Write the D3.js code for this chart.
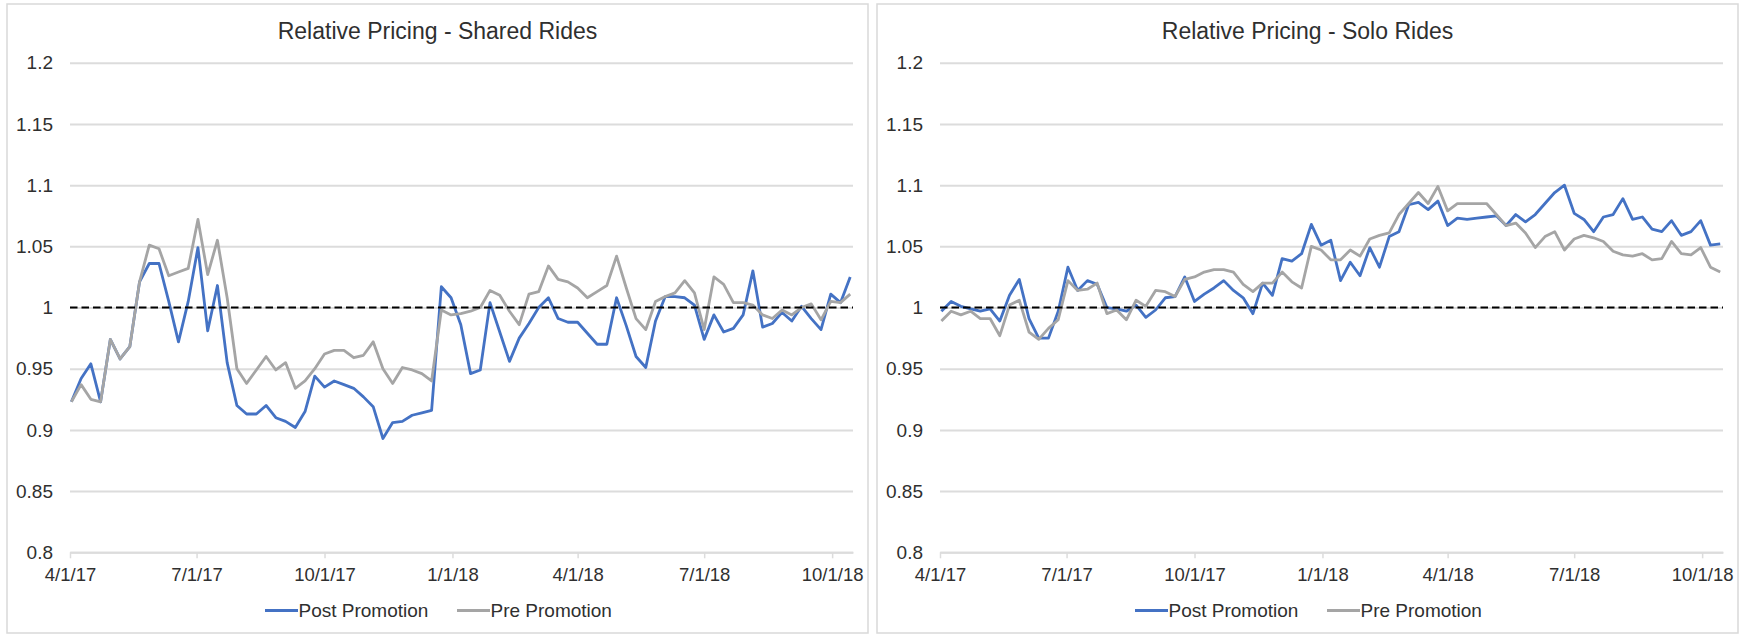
<!DOCTYPE html>
<html>
<head>
<meta charset="utf-8">
<script src="https://cdn.jsdelivr.net/npm/d3@7"></script>
<style>
  html, body { margin: 0; padding: 0; background: #ffffff; }
  svg { display: block; font-family: "Liberation Sans", Arial, Helvetica, sans-serif; }
</style>
</head>
<body>
<svg id="chart" width="1745" height="636"></svg>
<script>
// Weekly relative pricing, first week starting 2017-04-02
const firstWeek = "2017-04-02";

const sharedPost = [
  0.923, 0.942, 0.954, 0.923, 0.974, 0.958, 0.968, 1.021, 1.036, 1.036,
  1.005, 0.972, 1.005, 1.049, 0.981, 1.018, 0.955, 0.920, 0.913, 0.913,
  0.920, 0.910, 0.907, 0.902, 0.915, 0.944, 0.935, 0.940, 0.937, 0.934,
  0.927, 0.919, 0.893, 0.906, 0.907, 0.912, 0.914, 0.916, 1.017, 1.008,
  0.986, 0.946, 0.949, 1.004, 0.980, 0.956, 0.975, 0.987, 1.000, 1.008,
  0.991, 0.988, 0.988, 0.979, 0.970, 0.970, 1.008, 0.985, 0.960, 0.951,
  0.989, 1.009, 1.009, 1.008, 1.002, 0.974, 0.994, 0.980, 0.983, 0.994,
  1.030, 0.984, 0.987, 0.996, 0.989, 1.001, 0.991, 0.982, 1.011, 1.004,
  1.025
];

const sharedPre = [
  0.923, 0.937, 0.925, 0.923, 0.974, 0.958, 0.968, 1.021, 1.051, 1.048,
  1.026, 1.029, 1.032, 1.072, 1.027, 1.055, 1.008, 0.950, 0.938, 0.949,
  0.960, 0.949, 0.955, 0.934, 0.940, 0.950, 0.962, 0.965, 0.965, 0.959,
  0.961, 0.972, 0.950, 0.938, 0.951, 0.949, 0.946, 0.940, 0.998, 0.994,
  0.995, 0.997, 1.000, 1.014, 1.010, 0.997, 0.986, 1.011, 1.013, 1.034,
  1.023, 1.021, 1.016, 1.008, 1.013, 1.018, 1.042, 1.016, 0.991, 0.982,
  1.005, 1.009, 1.012, 1.022, 1.012, 0.982, 1.025, 1.019, 1.004, 1.004,
  1.002, 0.994, 0.991, 0.998, 0.994, 1.000, 1.003, 0.990, 1.005, 1.004,
  1.011
];

const soloPost = [
  0.997, 1.005, 1.001, 0.999, 0.997, 0.999, 0.989, 1.010, 1.023, 0.991,
  0.975, 0.975, 0.997, 1.033, 1.014, 1.022, 1.019, 1.000, 0.999, 0.997,
  1.002, 0.992, 0.998, 1.008, 1.009, 1.025, 1.005, 1.011, 1.016, 1.022,
  1.014, 1.008, 0.995, 1.020, 1.010, 1.040, 1.038, 1.044, 1.068, 1.051,
  1.055, 1.022, 1.037, 1.026, 1.049, 1.033, 1.058, 1.062, 1.084, 1.086,
  1.080, 1.087, 1.067, 1.073, 1.072, 1.073, 1.074, 1.075, 1.067, 1.076,
  1.070, 1.076, 1.085, 1.094, 1.100, 1.077, 1.072, 1.062, 1.074, 1.076,
  1.089, 1.072, 1.074, 1.064, 1.062, 1.071, 1.059, 1.062, 1.071, 1.051,
  1.052
];

const soloPre = [
  0.989, 0.997, 0.994, 0.997, 0.991, 0.991, 0.977, 1.002, 1.006, 0.980,
  0.974, 0.983, 0.990, 1.022, 1.014, 1.015, 1.020, 0.995, 0.998, 0.990,
  1.006, 1.001, 1.014, 1.013, 1.009, 1.023, 1.025, 1.029, 1.031, 1.031,
  1.029, 1.019, 1.013, 1.020, 1.020, 1.029, 1.021, 1.016, 1.050, 1.047,
  1.039, 1.039, 1.047, 1.042, 1.056, 1.059, 1.061, 1.076, 1.085, 1.094,
  1.085, 1.099, 1.079, 1.085, 1.085, 1.085, 1.085, 1.076, 1.067, 1.069,
  1.061, 1.049, 1.058, 1.062, 1.047, 1.056, 1.059, 1.057, 1.054, 1.046,
  1.043, 1.042, 1.044, 1.039, 1.040, 1.054, 1.044, 1.043, 1.049, 1.033,
  1.029
];

const panelTitles = ["Relative Pricing - Shared Rides", "Relative Pricing - Solo Rides"];
const seriesNames = ["Post Promotion", "Pre Promotion"];
const seriesColors = ["#4472c4", "#a5a5a5"];

const yTicks = [0.8, 0.85, 0.9, 0.95, 1, 1.05, 1.1, 1.15, 1.2];
const yTickLabels = ["0.8", "0.85", "0.9", "0.95", "1", "1.05", "1.1", "1.15", "1.2"];
const xTickDates = ["2017-04-01", "2017-07-01", "2017-10-01", "2018-01-01", "2018-04-01", "2018-07-01", "2018-10-01"];
const xTickLabels = ["4/1/17", "7/1/17", "10/1/17", "1/1/18", "4/1/18", "7/1/18", "10/1/18"];
const xDomain = ["2017-04-01", "2018-10-16"];
const referenceLevel = 1;

const parse = d3.utcParse("%Y-%m-%d");
const start = parse(firstWeek);
const weeks = sharedPost.map((_, i) => d3.utcDay.offset(start, 7 * i));

const panels = [
  { title: panelTitles[0], post: sharedPost, pre: sharedPre },
  { title: panelTitles[1], post: soloPost, pre: soloPre }
];

const svg = d3.select("#chart");
const panelStep = 870;
const frame = { x: 7, y: 4, w: 861, h: 629 };
const plot = { left: 70, right: 853, top: 62.8, bottom: 552.3 };

const x = d3.scaleUtc().domain(xDomain.map(parse)).range([plot.left, plot.right]);
const y = d3.scaleLinear().domain([0.8, 1.2]).range([plot.bottom, plot.top]);

const textColor = "#2f2f2f";
const gridColor = "#dcdcdc";

panels.forEach((p, k) => {
  const g = svg.append("g").attr("transform", `translate(${k * panelStep},0)`);

  g.append("rect")
    .attr("x", frame.x).attr("y", frame.y)
    .attr("width", frame.w).attr("height", frame.h)
    .attr("fill", "#ffffff")
    .attr("stroke", "#d9d9d9").attr("stroke-width", 1.5);

  g.append("text")
    .attr("x", frame.x + frame.w / 2).attr("y", 38.5)
    .attr("text-anchor", "middle")
    .attr("font-size", "23px")
    .attr("fill", textColor)
    .text(p.title);

  // value axis with gridlines
  const yAxis = g.append("g")
    .attr("transform", `translate(${plot.left},0)`)
    .call(d3.axisLeft(y)
      .tickValues(yTicks)
      .tickFormat((d, i) => yTickLabels[i])
      .tickSize(-(plot.right - plot.left))
      .tickPadding(17));
  yAxis.select(".domain").remove();
  yAxis.selectAll(".tick line").attr("stroke", gridColor).attr("stroke-width", 2);
  yAxis.selectAll(".tick text")
    .attr("font-size", "19px")
    .attr("font-family", "Liberation Sans, Arial, sans-serif")
    .attr("fill", textColor);

  // date axis
  const xAxis = g.append("g")
    .attr("transform", `translate(0,${plot.bottom})`)
    .call(d3.axisBottom(x)
      .tickValues(xTickDates.map(parse))
      .tickFormat((d, i) => xTickLabels[i])
      .tickSize(6)
      .tickSizeOuter(0)
      .tickPadding(10));
  xAxis.select(".domain").attr("stroke", gridColor).attr("stroke-width", 2);
  xAxis.selectAll(".tick line").attr("stroke", gridColor).attr("stroke-width", 1.5);
  xAxis.selectAll(".tick text")
    .attr("font-size", "18.5px")
    .attr("font-family", "Liberation Sans, Arial, sans-serif")
    .attr("fill", textColor);

  const line = d3.line()
    .x((d, i) => x(weeks[i]))
    .y(d => y(d));

  g.append("path")
    .datum(p.post)
    .attr("d", line)
    .attr("fill", "none")
    .attr("stroke", seriesColors[0])
    .attr("stroke-width", 2.8)
    .attr("stroke-linejoin", "round");

  g.append("path")
    .datum(p.pre)
    .attr("d", line)
    .attr("fill", "none")
    .attr("stroke", seriesColors[1])
    .attr("stroke-width", 2.8)
    .attr("stroke-linejoin", "round");

  // parity reference at 1.0
  g.append("line")
    .attr("x1", plot.left).attr("x2", plot.right)
    .attr("y1", y(referenceLevel)).attr("y2", y(referenceLevel))
    .attr("stroke", "#000000")
    .attr("stroke-width", 2)
    .attr("stroke-dasharray", "7.5,4");

  // legend
  const legendItems = [
    { name: seriesNames[0], color: seriesColors[0], x0: 265 },
    { name: seriesNames[1], color: seriesColors[1], x0: 457 }
  ];
  legendItems.forEach(item => {
    g.append("line")
      .attr("x1", item.x0).attr("x2", item.x0 + 33)
      .attr("y1", 610.5).attr("y2", 610.5)
      .attr("stroke", item.color).attr("stroke-width", 2.8);
    g.append("text")
      .attr("x", item.x0 + 33.5).attr("y", 617)
      .attr("font-size", "19px")
      .attr("fill", textColor)
      .text(item.name);
  });
});
</script>
</body>
</html>
